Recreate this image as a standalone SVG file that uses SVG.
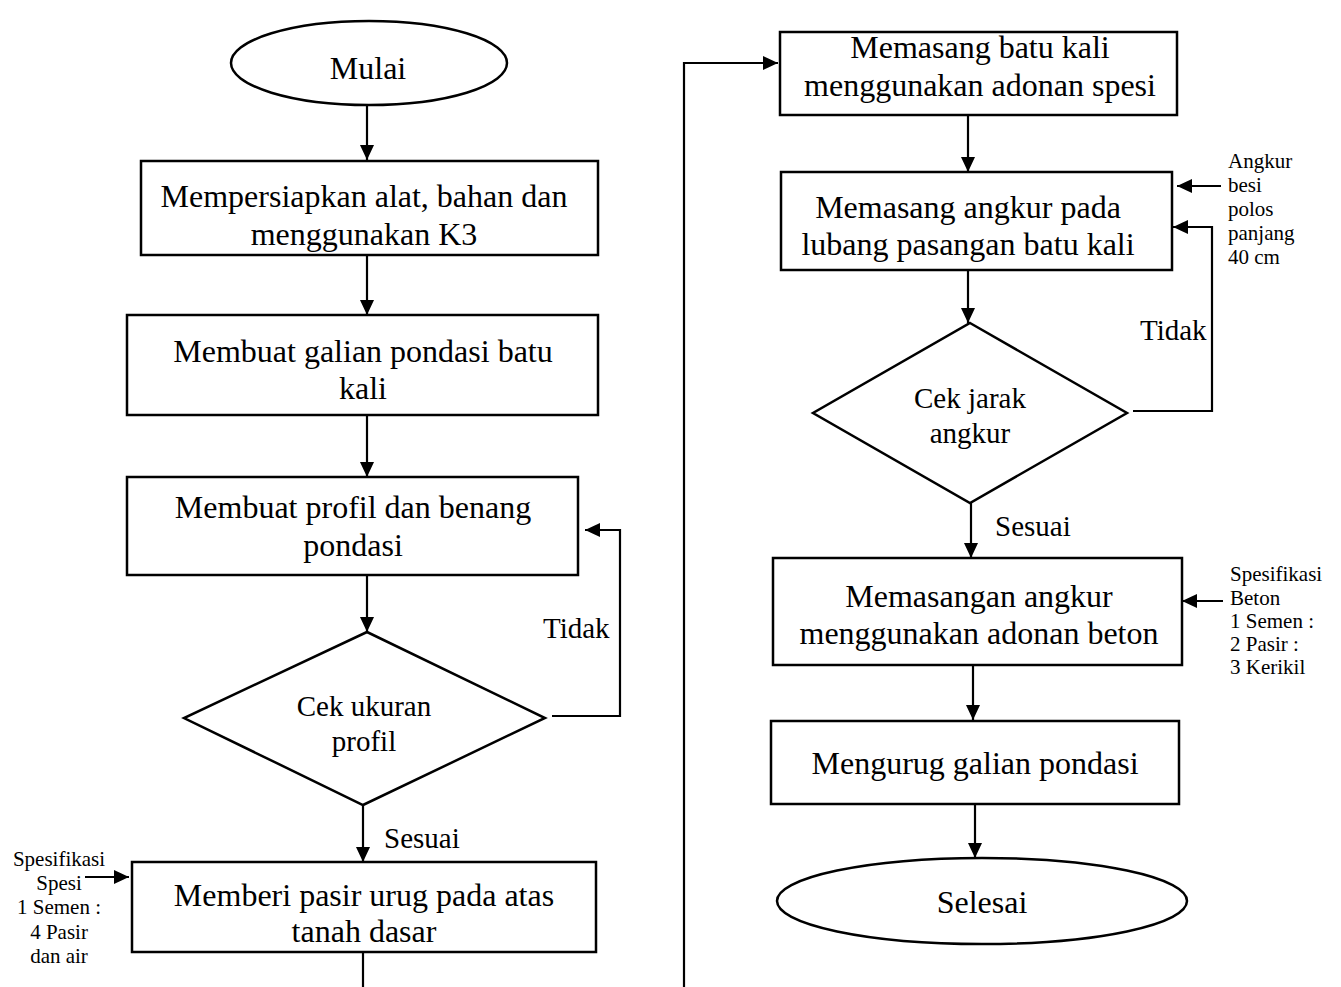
<svg xmlns="http://www.w3.org/2000/svg" width="1341" height="987" viewBox="0 0 1341 987">
<style>
.s{fill:#fff;stroke:#000;stroke-width:2.5}
.t{font-family:"Liberation Serif","Times New Roman",serif;font-size:32px;fill:#000;text-anchor:middle}
.d{font-family:"Liberation Serif","Times New Roman",serif;font-size:29px;fill:#000;text-anchor:middle}
.l{font-family:"Liberation Serif","Times New Roman",serif;font-size:29px;fill:#000}
.a{font-family:"Liberation Serif","Times New Roman",serif;font-size:21px;fill:#000}
.c{fill:none;stroke:#000;stroke-width:2.2}
</style>
<defs>
<marker id="ah" markerUnits="userSpaceOnUse" markerWidth="16" markerHeight="16" refX="15" refY="7" orient="auto">
<path d="M0,0 L15,7 L0,14 z" fill="#000"/>
</marker>
</defs>
<rect width="1341" height="987" fill="#fff"/>
<g id="connectors">
<path class="c" d="M367,105 V160" marker-end="url(#ah)"/>
<path class="c" d="M367,255 V315" marker-end="url(#ah)"/>
<path class="c" d="M367,415 V477" marker-end="url(#ah)"/>
<path class="c" d="M367,575 V632" marker-end="url(#ah)"/>
<path class="c" d="M552,716 H620 V530 H585" marker-end="url(#ah)"/>
<path class="c" d="M363,805 V862" marker-end="url(#ah)"/>
<path class="c" d="M363,952 V987"/>
<path class="c" d="M684,987 V63 H778" marker-end="url(#ah)"/>
<path class="c" d="M85,877 H129" marker-end="url(#ah)"/>
<path class="c" d="M968,115 V172" marker-end="url(#ah)"/>
<path class="c" d="M1221,186 H1177" marker-end="url(#ah)"/>
<path class="c" d="M968,270 V323" marker-end="url(#ah)"/>
<path class="c" d="M1133,411 H1212 V227 H1173" marker-end="url(#ah)"/>
<path class="c" d="M971,503 V558" marker-end="url(#ah)"/>
<path class="c" d="M1223,601 H1182" marker-end="url(#ah)"/>
<path class="c" d="M973,665 V720" marker-end="url(#ah)"/>
<path class="c" d="M975,804 V858" marker-end="url(#ah)"/>
</g>
<g id="mulai">
<ellipse class="s" cx="369" cy="63" rx="138" ry="42"/>
<text class="t" x="368" y="79">Mulai</text>
</g>
<g id="box1">
<rect class="s" x="141" y="161" width="457" height="94"/>
<text class="t" x="364" y="207">Mempersiapkan alat, bahan dan</text>
<text class="t" x="364" y="245">menggunakan K3</text>
</g>
<g id="box2">
<rect class="s" x="127" y="315" width="471" height="100"/>
<text class="t" x="363" y="362">Membuat galian pondasi batu</text>
<text class="t" x="363" y="399">kali</text>
</g>
<g id="box3">
<rect class="s" x="127" y="477" width="451" height="98"/>
<text class="t" x="353" y="518">Membuat profil dan benang</text>
<text class="t" x="353" y="556">pondasi</text>
</g>
<g id="diamond1">
<polygon class="s" points="367,632 545,718 363,805 184,718"/>
<text class="d" x="364" y="716">Cek ukuran</text>
<text class="d" x="364" y="751">profil</text>
</g>
<text class="l" x="543" y="638">Tidak</text>
<text class="l" x="384" y="848">Sesuai</text>
<g id="box4">
<rect class="s" x="132" y="862" width="464" height="90"/>
<text class="t" x="364" y="906">Memberi pasir urug pada atas</text>
<text class="t" x="364" y="942">tanah dasar</text>
</g>
<g id="note-spesi">
<text class="a" text-anchor="middle" x="59" y="866">Spesifikasi</text>
<text class="a" text-anchor="middle" x="59" y="890">Spesi</text>
<text class="a" text-anchor="middle" x="59" y="914">1 Semen :</text>
<text class="a" text-anchor="middle" x="59" y="939">4 Pasir</text>
<text class="a" text-anchor="middle" x="59" y="963">dan air</text>
</g>
<g id="boxA">
<rect class="s" x="780" y="32" width="397" height="83"/>
<text class="t" x="980" y="58">Memasang batu kali</text>
<text class="t" x="980" y="96">menggunakan adonan spesi</text>
</g>
<g id="boxB">
<rect class="s" x="781" y="172" width="391" height="98"/>
<text class="t" x="968" y="218">Memasang angkur pada</text>
<text class="t" x="968" y="255">lubang pasangan batu kali</text>
</g>
<g id="note-angkur">
<text class="a" x="1228" y="168">Angkur</text>
<text class="a" x="1228" y="192">besi</text>
<text class="a" x="1228" y="216">polos</text>
<text class="a" x="1228" y="240">panjang</text>
<text class="a" x="1228" y="264">40 cm</text>
</g>
<g id="diamond2">
<polygon class="s" points="970,323 1127,413 970,503 813,413"/>
<text class="d" x="970" y="408">Cek jarak</text>
<text class="d" x="970" y="443">angkur</text>
</g>
<text class="l" x="1140" y="340">Tidak</text>
<text class="l" x="995" y="536">Sesuai</text>
<g id="boxC">
<rect class="s" x="773" y="558" width="409" height="107"/>
<text class="t" x="979" y="607">Memasangan angkur</text>
<text class="t" x="979" y="644">menggunakan adonan beton</text>
</g>
<g id="note-beton">
<text class="a" x="1230" y="581">Spesifikasi</text>
<text class="a" x="1230" y="605">Beton</text>
<text class="a" x="1230" y="628">1 Semen :</text>
<text class="a" x="1230" y="651">2 Pasir :</text>
<text class="a" x="1230" y="674">3 Kerikil</text>
</g>
<g id="boxD">
<rect class="s" x="771" y="721" width="408" height="83"/>
<text class="t" x="975" y="774">Mengurug galian pondasi</text>
</g>
<g id="selesai">
<ellipse class="s" cx="982" cy="901" rx="205" ry="43"/>
<text class="t" x="982" y="913">Selesai</text>
</g>
</svg>
